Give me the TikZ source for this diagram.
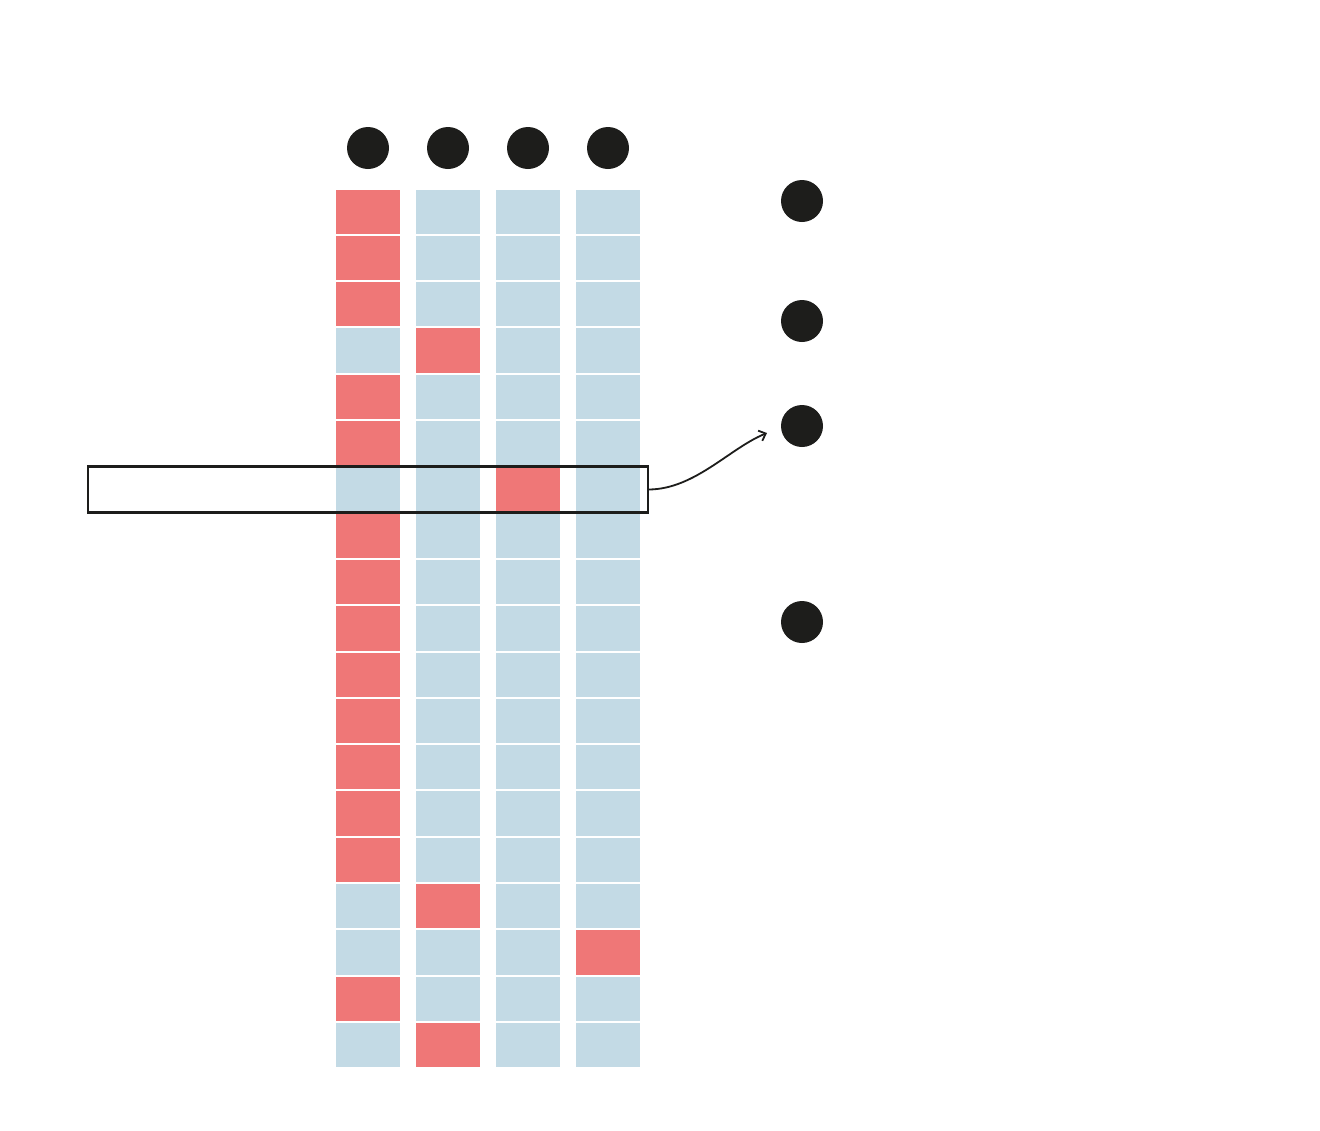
\documentclass[tikz,border=0pt]{standalone}
\usetikzlibrary{arrows.meta}
\definecolor{R}{HTML}{EF7777}
\definecolor{B}{HTML}{C3DAE5}
\definecolor{cdark}{HTML}{1D1D1B}
\begin{document}
\begin{tikzpicture}[x=1pt,y=-1pt,
  cell/.style={rectangle, inner sep=0pt, minimum width=64pt, minimum height=44.3pt, draw=none},
  dot/.style={circle, inner sep=0pt, minimum size=42pt, fill=cdark, draw=none},
  selbox/.style={rectangle, inner sep=0pt, minimum width=560pt, minimum height=46pt, draw=cdark, line width=2.2pt},
  link/.style={draw=cdark, line width=1.8pt, -{Straight Barb[length=6pt,width=11pt]}}]
\useasboundingbox (0,0) rectangle (1320,1130);
% grid columns
\foreach \col [count=\c] in {
  {R,R,R,B,R,R,B,R,R,R,R,R,R,R,R,B,B,R,B},
  {B,B,B,R,B,B,B,B,B,B,B,B,B,B,B,R,B,B,R},
  {B,B,B,B,B,B,R,B,B,B,B,B,B,B,B,B,B,B,B},
  {B,B,B,B,B,B,B,B,B,B,B,B,B,B,B,B,R,B,B}}{
  \foreach \clr [count=\r] in \col {
    \node[cell, fill=\clr] (cell-\c-\r) at ({336+(\c-1)*80+32},{189.5+(\r-1)*46.3+22.15}) {};
  }
}
% top dots
\foreach \c in {1,2,3,4}{
  \node[dot] (top-\c) at ({368+(\c-1)*80},148) {};
}
% right dots
\node[dot] (r1) at (802,201) {};
\node[dot] (r2) at (802,321) {};
\node[dot] (r3) at (802,426) {};
\node[dot] (r4) at (802,622) {};
% selection box
\node[selbox] (sel) at (368,489.5) {};
\coordinate (tip) at (767,433);
\draw[link] (sel.east) .. controls (695,489) and (730,448) .. (tip);
\end{tikzpicture}
\end{document}
